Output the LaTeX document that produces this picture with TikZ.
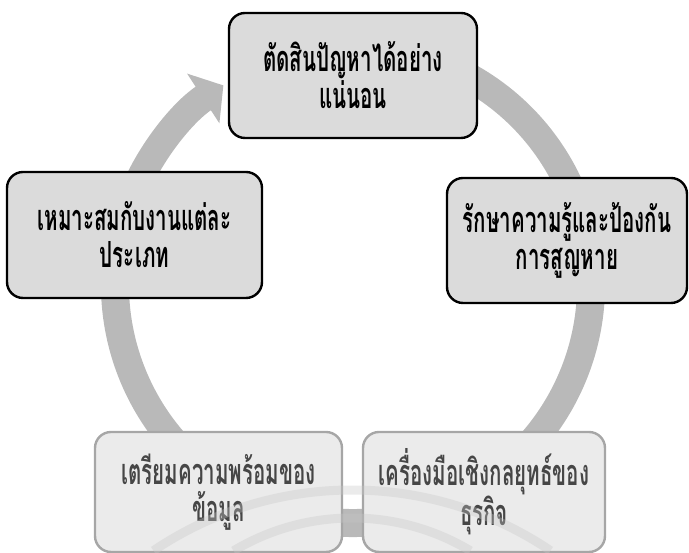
\documentclass[tikz,border=0pt]{standalone}
\usepackage{fontspec}
\newfontfamily\thaifont[Script=Thai, FakeStretch=0.57]{Loma}
\usetikzlibrary{arrows.meta}

\begin{document}
\begin{tikzpicture}[x=1pt, y=1pt,
    stage node/.style={draw, line width=2.4pt, rounded corners=16pt, fill=gray!28,
        align=center, font=\thaifont\bfseries\fontsize{36}{37}\selectfont, inner sep=0pt},
    faded node/.style={stage node, draw=gray!70, fill=gray!16, text=gray!55!black},
    ring/.style={line width=28pt, draw=gray!55, -{Triangle[length=24pt, width=58pt]}},
    watermark/.style={line width=9pt, draw=gray!45, opacity=0.35}]

    \useasboundingbox (0,0) rectangle (689,553);

    % Cycle arrow
    \coordinate (ctr) at (353,268);
    \draw[ring] ([shift={(65:238)}]ctr) arc[start angle=65, end angle=-237, radius=238];

    % Boxes
    \node[stage node, minimum width=248pt, minimum height=125pt] (decide) at (353,477.5)
        {ตัดสินปัญหาได้อย่าง\\แน่นอน};
    \node[stage node, minimum width=240pt, minimum height=125pt] (keep) at (567,312.5)
        {รักษาความรู้และป้องกัน\\การสูญหาย};
    \node[faded node, minimum width=242pt, minimum height=120pt] (tool) at (484,61)
        {เครื่องมือเชิงกลยุทธ์ของ\\ธุรกิจ};
    \node[faded node, minimum width=247pt, minimum height=120pt] (ready) at (218.5,61)
        {เตรียมความพร้อมของ\\ข้อมูล};
    \node[stage node, minimum width=255pt, minimum height=126pt] (fit) at (134.5,318)
        {เหมาะสมกับงานแต่ละ\\ประเภท};

    % Scan watermark
    \draw[watermark] ([shift={(124:355)}]352,-292) arc[start angle=124, end angle=56, radius=355];
    \draw[watermark] ([shift={(121:230)}]352,-195) arc[start angle=121, end angle=59, radius=230];

\end{tikzpicture}
\end{document}
